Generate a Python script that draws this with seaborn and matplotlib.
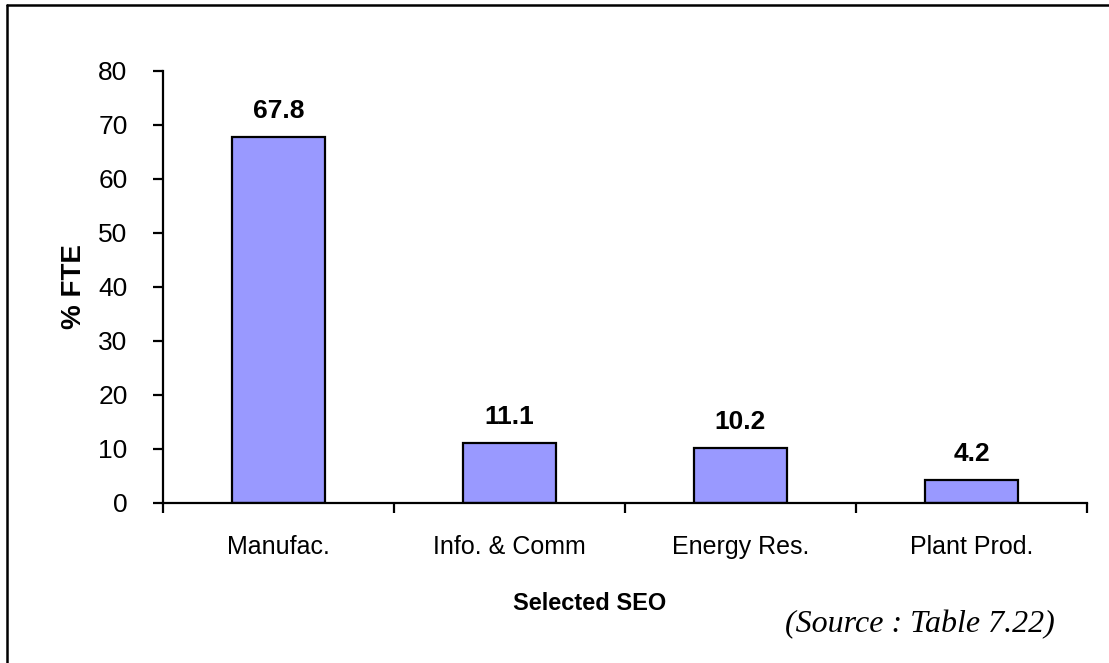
import matplotlib
matplotlib.use("Agg")
import matplotlib.pyplot as plt
import seaborn as sns
import pandas as pd
from matplotlib.lines import Line2D

categories = ["Manufac.", "Info. & Comm", "Energy Res.", "Plant Prod."]
values = [67.8, 11.1, 10.2, 4.2]
yticks = [0, 10, 20, 30, 40, 50, 60, 70, 80]

sns.set_theme(style="white")
plt.rcParams['font.family'] = ['Liberation Sans', 'DejaVu Sans']
plt.rcParams['text.color'] = 'black'
plt.rcParams['axes.labelcolor'] = 'black'
plt.rcParams['xtick.color'] = 'black'
plt.rcParams['ytick.color'] = 'black'

df = pd.DataFrame({"cat": categories, "val": values})

fig = plt.figure(figsize=(11.09, 6.63), dpi=100)
ax = fig.add_axes([163/1109, 1-503/663, (1087-163)/1109, (503-71)/663])

sns.barplot(data=df, x="cat", y="val", ax=ax, width=0.4, color="#9999FF",
            saturation=1, edgecolor="black", linewidth=1.6)

ax.set_xlim(-0.5, len(categories) - 0.5)
ax.set_ylim(0, 80)
ax.set_yticks(yticks)
ax.set_yticklabels([str(t) for t in yticks])

for s in ["top", "right"]:
    ax.spines[s].set_visible(False)
for s in ["left", "bottom"]:
    ax.spines[s].set_color("black")
    ax.spines[s].set_linewidth(1.6)

ax.tick_params(axis="y", which="major", direction="out", length=7.5, width=1.6,
               color="black", labelsize=19, pad=18, left=True)
ax.set_xticks(range(len(categories)))
ax.set_xticklabels(categories)
ax.tick_params(axis="x", which="major", length=0, labelsize=18, pad=23)
ax.set_xticks([i - 0.5 for i in range(len(categories) + 1)], minor=True)
ax.tick_params(axis="x", which="minor", direction="out", length=7, width=1.6,
               color="black", bottom=True)

ax.set_xlabel("")
ax.set_ylabel("% FTE", fontsize=20, fontweight="bold")
ax.yaxis.set_label_coords(-0.082, 0.5)

for i, v in enumerate(values):
    ax.annotate(f"{v:.1f}", (i, v), xytext=(0, 10), textcoords="offset points",
                ha="center", va="bottom", fontsize=19, fontweight="bold")

fig.text(590/1109, 1-604/663, "Selected SEO", ha="center", va="center",
         fontsize=17, fontweight="bold")
fig.text(1055/1109, 1-625/663, "(Source : Table 7.22)", ha="right", va="center",
         fontsize=23, style="italic", family=["Liberation Serif", "DejaVu Serif"])

fig.add_artist(Line2D([7/1109, 1], [1-5/663, 1-5/663], transform=fig.transFigure,
                      color="black", linewidth=1.8))
fig.add_artist(Line2D([7/1109, 7/1109], [0, 1-5/663], transform=fig.transFigure,
                      color="black", linewidth=1.8))

fig.savefig("out.png", dpi=100)
